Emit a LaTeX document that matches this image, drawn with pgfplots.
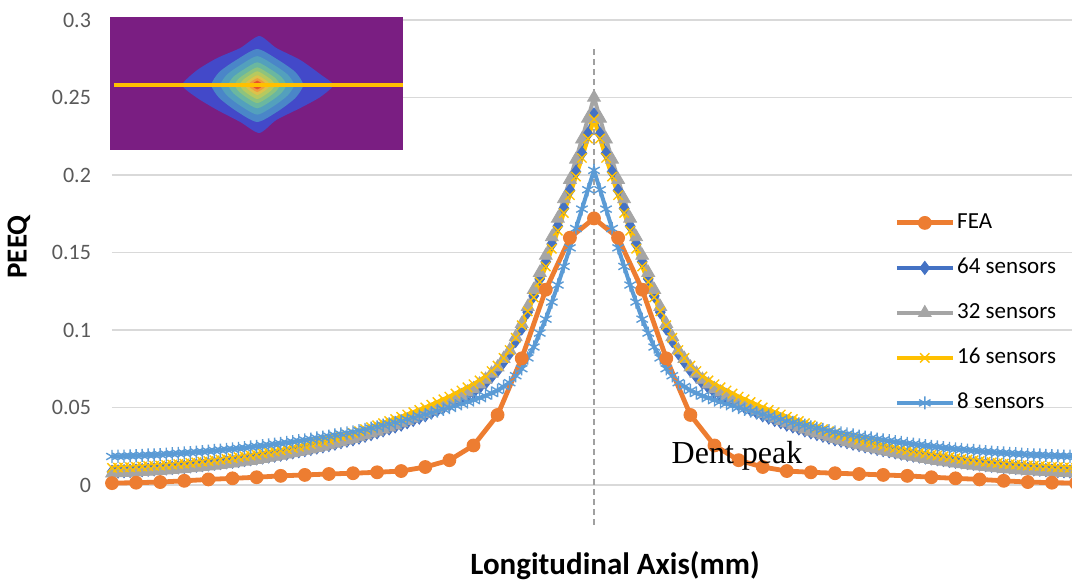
\documentclass[border=0pt]{standalone}
\usepackage{fontspec}
\setmainfont{Carlito}
\newfontfamily\timesf{Liberation Serif}
\usepackage{pgfplots}
\usepackage{pgfplotstable}
\pgfplotsset{compat=1.18}
\definecolor{feaC}{HTML}{ED7D31}
\definecolor{b64}{HTML}{4472C4}
\definecolor{g32}{HTML}{A5A5A5}
\definecolor{y16}{HTML}{FFC000}
\definecolor{b8}{HTML}{5B9BD5}
\definecolor{gridC}{HTML}{D9D9D9}
\definecolor{tickC}{HTML}{595959}
\definecolor{dashC}{HTML}{A0A0A0}
\definecolor{purp}{HTML}{7A1E82}
\definecolor{L1}{HTML}{4349C9}
\definecolor{L2}{HTML}{4A86C8}
\definecolor{L3}{HTML}{53A0BD}
\definecolor{L4}{HTML}{6AB7A0}
\definecolor{L5}{HTML}{8EC37D}
\definecolor{L6}{HTML}{B6C95F}
\definecolor{L7}{HTML}{DCC24B}
\definecolor{L8}{HTML}{EE9C3E}
\definecolor{L9}{HTML}{E8552B}
\definecolor{L10}{HTML}{D61E1E}

\pgfplotstableread{
x s64 s32 s16 s8
-20 0.0085 0.0075 0.0110 0.0184
-19.75 0.0087 0.0077 0.0112 0.0185
-19.5 0.0089 0.0079 0.0114 0.0186
-19.25 0.0091 0.0080 0.0115 0.0188
-19 0.0093 0.0082 0.0117 0.0189
-18.75 0.0096 0.0085 0.0119 0.0191
-18.5 0.0099 0.0087 0.0122 0.0193
-18.25 0.0101 0.0090 0.0124 0.0194
-18 0.0104 0.0092 0.0126 0.0196
-17.75 0.0107 0.0095 0.0129 0.0199
-17.5 0.0111 0.0099 0.0132 0.0201
-17.25 0.0114 0.0102 0.0135 0.0204
-17 0.0117 0.0105 0.0138 0.0206
-16.75 0.0121 0.0109 0.0142 0.0209
-16.5 0.0125 0.0113 0.0146 0.0212
-16.25 0.0129 0.0117 0.0150 0.0215
-16 0.0133 0.0121 0.0154 0.0218
-15.75 0.0138 0.0126 0.0159 0.0222
-15.5 0.0142 0.0131 0.0164 0.0225
-15.25 0.0147 0.0135 0.0168 0.0229
-15 0.0151 0.0140 0.0173 0.0232
-14.75 0.0156 0.0146 0.0179 0.0236
-14.5 0.0162 0.0152 0.0185 0.0241
-14.25 0.0167 0.0157 0.0190 0.0245
-14 0.0172 0.0163 0.0196 0.0249
-13.75 0.0178 0.0170 0.0203 0.0254
-13.5 0.0184 0.0177 0.0210 0.0259
-13.25 0.0190 0.0183 0.0216 0.0263
-13 0.0196 0.0190 0.0223 0.0268
-12.75 0.0203 0.0198 0.0231 0.0274
-12.5 0.0211 0.0206 0.0239 0.0279
-12.25 0.0218 0.0214 0.0247 0.0285
-12 0.0225 0.0222 0.0255 0.0290
-11.75 0.0233 0.0231 0.0264 0.0296
-11.5 0.0242 0.0240 0.0274 0.0303
-11.25 0.0250 0.0249 0.0283 0.0309
-11 0.0258 0.0258 0.0292 0.0315
-10.75 0.0267 0.0268 0.0303 0.0322
-10.5 0.0277 0.0278 0.0314 0.0329
-10.25 0.0286 0.0288 0.0324 0.0335
-10 0.0295 0.0298 0.0335 0.0342
-9.75 0.0306 0.0310 0.0348 0.0350
-9.5 0.0318 0.0322 0.0360 0.0359
-9.25 0.0329 0.0333 0.0373 0.0367
-9 0.0340 0.0345 0.0385 0.0375
-8.75 0.0353 0.0359 0.0399 0.0385
-8.5 0.0365 0.0373 0.0413 0.0394
-8.25 0.0378 0.0386 0.0426 0.0404
-8 0.0390 0.0400 0.0440 0.0413
-7.75 0.0405 0.0415 0.0455 0.0424
-7.5 0.0420 0.0430 0.0470 0.0434
-7.25 0.0435 0.0445 0.0485 0.0445
-7 0.0450 0.0460 0.0500 0.0455
-6.75 0.0468 0.0478 0.0518 0.0466
-6.5 0.0485 0.0495 0.0535 0.0478
-6.25 0.0503 0.0513 0.0553 0.0489
-6 0.0520 0.0530 0.0570 0.0500
-5.75 0.0540 0.0553 0.0590 0.0512
-5.5 0.0560 0.0575 0.0610 0.0524
-5.25 0.0580 0.0598 0.0630 0.0536
-5 0.0600 0.0620 0.0650 0.0548
-4.75 0.0630 0.0650 0.0675 0.0562
-4.5 0.0660 0.0680 0.0700 0.0575
-4.25 0.0700 0.0720 0.0735 0.0593
-4 0.0740 0.0760 0.0770 0.0610
-3.75 0.0795 0.0815 0.0820 0.0635
-3.5 0.0850 0.0870 0.0870 0.0660
-3.25 0.0930 0.0955 0.0950 0.0705
-3 0.1010 0.1040 0.1030 0.0750
-2.75 0.1115 0.1150 0.1120 0.0820
-2.5 0.1220 0.1260 0.1210 0.0890
-2.25 0.1330 0.1370 0.1310 0.0980
-2 0.1440 0.1480 0.1410 0.1070
-1.75 0.1555 0.1600 0.1525 0.1180
-1.5 0.1670 0.1720 0.1640 0.1290
-1.25 0.1785 0.1845 0.1755 0.1410
-1 0.1900 0.1970 0.1870 0.1530
-0.75 0.2020 0.2100 0.1990 0.1655
-0.5 0.2140 0.2230 0.2110 0.1780
-0.25 0.2265 0.2365 0.2235 0.1905
0 0.2390 0.2500 0.2360 0.2030
0.25 0.2265 0.2365 0.2235 0.1905
0.5 0.2140 0.2230 0.2110 0.1780
0.75 0.2020 0.2100 0.1990 0.1655
1 0.1900 0.1970 0.1870 0.1530
1.25 0.1785 0.1845 0.1755 0.1410
1.5 0.1670 0.1720 0.1640 0.1290
1.75 0.1555 0.1600 0.1525 0.1180
2 0.1440 0.1480 0.1410 0.1070
2.25 0.1330 0.1370 0.1310 0.0980
2.5 0.1220 0.1260 0.1210 0.0890
2.75 0.1115 0.1150 0.1120 0.0820
3 0.1010 0.1040 0.1030 0.0750
3.25 0.0930 0.0955 0.0950 0.0705
3.5 0.0850 0.0870 0.0870 0.0660
3.75 0.0795 0.0815 0.0820 0.0635
4 0.0740 0.0760 0.0770 0.0610
4.25 0.0700 0.0720 0.0735 0.0593
4.5 0.0660 0.0680 0.0700 0.0575
4.75 0.0630 0.0650 0.0675 0.0562
5 0.0600 0.0620 0.0650 0.0548
5.25 0.0580 0.0598 0.0630 0.0536
5.5 0.0560 0.0575 0.0610 0.0524
5.75 0.0540 0.0553 0.0590 0.0512
6 0.0520 0.0530 0.0570 0.0500
6.25 0.0503 0.0513 0.0553 0.0489
6.5 0.0485 0.0495 0.0535 0.0478
6.75 0.0468 0.0478 0.0518 0.0466
7 0.0450 0.0460 0.0500 0.0455
7.25 0.0435 0.0445 0.0485 0.0445
7.5 0.0420 0.0430 0.0470 0.0434
7.75 0.0405 0.0415 0.0455 0.0424
8 0.0390 0.0400 0.0440 0.0413
8.25 0.0378 0.0386 0.0426 0.0404
8.5 0.0365 0.0373 0.0413 0.0394
8.75 0.0353 0.0359 0.0399 0.0385
9 0.0340 0.0345 0.0385 0.0375
9.25 0.0329 0.0333 0.0373 0.0367
9.5 0.0318 0.0322 0.0360 0.0359
9.75 0.0306 0.0310 0.0348 0.0350
10 0.0295 0.0298 0.0335 0.0342
10.25 0.0286 0.0288 0.0324 0.0335
10.5 0.0277 0.0278 0.0314 0.0329
10.75 0.0267 0.0268 0.0303 0.0322
11 0.0258 0.0258 0.0292 0.0315
11.25 0.0250 0.0249 0.0283 0.0309
11.5 0.0242 0.0240 0.0274 0.0303
11.75 0.0233 0.0231 0.0264 0.0296
12 0.0225 0.0222 0.0255 0.0290
12.25 0.0218 0.0214 0.0247 0.0285
12.5 0.0211 0.0206 0.0239 0.0279
12.75 0.0203 0.0198 0.0231 0.0274
13 0.0196 0.0190 0.0223 0.0268
13.25 0.0190 0.0183 0.0216 0.0263
13.5 0.0184 0.0177 0.0210 0.0259
13.75 0.0178 0.0170 0.0203 0.0254
14 0.0172 0.0163 0.0196 0.0249
14.25 0.0167 0.0157 0.0190 0.0245
14.5 0.0162 0.0152 0.0185 0.0241
14.75 0.0156 0.0146 0.0179 0.0236
15 0.0151 0.0140 0.0173 0.0232
15.25 0.0147 0.0135 0.0168 0.0229
15.5 0.0142 0.0131 0.0164 0.0225
15.75 0.0138 0.0126 0.0159 0.0222
16 0.0133 0.0121 0.0154 0.0218
16.25 0.0129 0.0117 0.0150 0.0215
16.5 0.0125 0.0113 0.0146 0.0212
16.75 0.0121 0.0109 0.0142 0.0209
17 0.0117 0.0105 0.0138 0.0206
17.25 0.0114 0.0102 0.0135 0.0204
17.5 0.0111 0.0099 0.0132 0.0201
17.75 0.0107 0.0095 0.0129 0.0199
18 0.0104 0.0092 0.0126 0.0196
18.25 0.0101 0.0090 0.0124 0.0194
18.5 0.0099 0.0087 0.0122 0.0193
18.75 0.0096 0.0085 0.0119 0.0191
19 0.0093 0.0082 0.0117 0.0189
19.25 0.0091 0.0080 0.0115 0.0188
19.5 0.0089 0.0079 0.0114 0.0186
19.75 0.0087 0.0077 0.0112 0.0185
20 0.0085 0.0075 0.0110 0.0184
}\sens

\pgfplotstableread{
x fea
-20 0.0012
-19 0.0015
-18 0.0019
-17 0.0027
-16 0.0036
-15 0.0043
-14 0.0050
-13 0.0059
-12 0.0065
-11 0.0071
-10 0.0076
-9 0.0082
-8 0.0090
-7 0.0116
-6 0.0160
-5 0.0255
-4 0.0452
-3 0.0817
-2 0.1260
-1 0.1595
0 0.1720
1 0.1595
2 0.1260
3 0.0817
4 0.0452
5 0.0255
6 0.0160
7 0.0116
8 0.0090
9 0.0082
10 0.0076
11 0.0071
12 0.0065
13 0.0059
14 0.0050
15 0.0043
16 0.0036
17 0.0027
18 0.0019
19 0.0015
20 0.0012
}\fea

\pgfplotsset{
  feastyle/.style={feaC, line width=2.4pt, mark=*, mark size=3.2pt, mark options={fill=feaC, draw=feaC, line width=0.5pt}},
}

\begin{document}
\begin{tikzpicture}
\begin{axis}[
  name=ax,
  width=482pt, height=232.5pt, scale only axis,
  xmin=-20, xmax=20, ymin=0, ymax=0.3,
  clip=false,
  axis line style={draw=none},
  tick style={draw=none},
  xtick=\empty,
  ytick={0,0.05,0.1,0.15,0.2,0.25,0.3},
  yticklabels={0,0.05,0.1,0.15,0.2,0.25,0.3},
  /pgf/number format/assume math mode=true,
  ymajorgrids,
  major grid style={gridC, line width=0.8pt},
  yticklabel style={font=\fontsize{11}{13}\selectfont, text=tickC, xshift=-7pt},
  legend cell align=left,
  legend style={at={(0.805,0.6)}, anchor=north west, draw=none, fill=none,
    font=\fontsize{11.5}{13}\selectfont, row sep=10pt,
    nodes={inner sep=1pt, text height=8pt, text depth=2.5pt}},
  legend image code/.code={\draw[mark repeat=2,mark phase=2] plot coordinates {(0pt,0pt) (14pt,0pt) (28pt,0pt)};},
]
\addplot[forget plot, dashC, line width=0.8pt, dash pattern=on 3pt off 2pt] coordinates {(0,-0.0258) (0,0.2823)};
\addlegendimage{feastyle}
\addlegendentry{FEA}
\addplot[b64, line width=2pt, mark=diamond*, mark size=3.3pt, mark options={fill=b64, draw=b64, line width=0.4pt}] table[x=x, y=s64]{\sens};
\addlegendentry{64 sensors}
\addplot[g32, line width=2pt, mark=triangle*, mark size=3.7pt, mark options={fill=g32, draw=g32, line width=0.4pt}] table[x=x, y=s32]{\sens};
\addlegendentry{32 sensors}
\addplot[y16, line width=2pt, mark=x, mark size=3.3pt, mark options={line width=0.7pt}] table[x=x, y=s16]{\sens};
\addlegendentry{16 sensors}
\addplot[b8, line width=2pt, mark=asterisk, mark size=3.3pt, mark options={line width=0.7pt}] table[x=x, y=s8]{\sens};
\addlegendentry{8 sensors}
\addplot[feastyle, forget plot] table[x=x, y=fea]{\fea};
\end{axis}
\begin{scope}[shift={(ax.south west)}, x=0.5pt, y=-0.5pt, shift={(-112,-485)}]
  \fill[purp] (110,17.3) rectangle (402.7,150);
  \begin{scope}[shift={(257.3,85)}]
    \fill[L1] plot[smooth cycle, tension=0.4] coordinates {(2,-49) (19,-37) (43,-25) (64,-10) (76,0) (63,12) (43,23) (19,35) (2,48) (-17,37) (-40,25) (-60,13) (-75,0) (-60,-15) (-40,-27) (-17,-37)};
    \foreach \s/\c in {1/L2, 0.8/L3, 0.63/L4, 0.49/L5, 0.38/L6, 0.27/L7, 0.19/L8, 0.12/L9, 0.06/L10}{
      \begin{scope}[scale=\s]
      \fill[\c] plot[smooth cycle, tension=0.4] coordinates {(0,-36) (21,-25) (38,-13) (46,0) (38,13) (21,26) (0,37) (-21,26) (-38,13) (-46,0) (-38,-13) (-21,-25)};
      \end{scope}
    }
  \end{scope}
  \draw[y16, line width=2pt] (114,85) -- (403,85);
  \node[font=\timesf\fontsize{16}{18}\selectfont] at (737,456) {Dent peak};
  \node[rotate=90, font=\bfseries\fontsize{14.5}{16}\selectfont] at (19,247) {PEEQ};
  \node[font=\bfseries\fontsize{15.5}{18}\selectfont] at (615,566) {Longitudinal Axis(mm)};
  \pgfresetboundingbox
  \path (0,0) rectangle (1072,584);
\end{scope}
\end{tikzpicture}
\end{document}
